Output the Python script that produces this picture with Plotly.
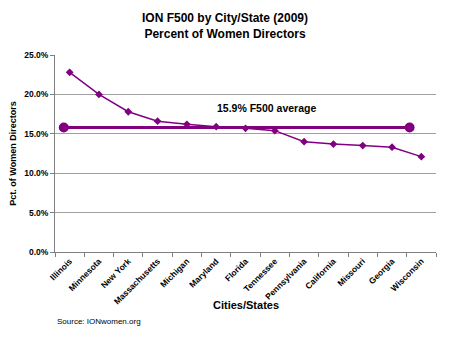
import plotly.graph_objects as go

states = ["Illinois", "Minnesota", "New York", "Massachusetts", "Michigan", "Maryland",
          "Florida", "Tennessee", "Pennsylvania", "California", "Missouri", "Georgia", "Wisconsin"]
pct_women = [22.8, 20.0, 17.8, 16.6, 16.2, 15.9, 15.7, 15.4, 14.0, 13.7, 13.5, 13.3, 12.1]

avg_x = [-0.2, 11.6]
avg_values = [15.8, 15.8]
avg_label = "15.9% F500 average"

y_ticks = [0, 5, 10, 15, 20, 25]
y_tick_labels = ["0.0%", "5.0%", "10.0%", "15.0%", "20.0%", "25.0%"]

purple = "#800080"
font_fam = "Arial, Liberation Sans, sans-serif"

fig = go.Figure()
fig.add_trace(go.Scatter(
    x=states, y=pct_women, mode="lines+markers",
    line=dict(color=purple, width=1.5),
    marker=dict(symbol="diamond", size=6, color=purple),
    xaxis="x", yaxis="y", showlegend=False))
fig.add_trace(go.Scatter(
    x=avg_x, y=avg_values, mode="lines+markers",
    line=dict(color=purple, width=3),
    marker=dict(symbol="circle", size=10, color=purple),
    xaxis="x2", yaxis="y", showlegend=False))

fig.update_layout(
    width=450, height=338,
    margin=dict(l=47, r=14, t=55, b=86),
    paper_bgcolor="white", plot_bgcolor="white",
    font=dict(family=font_fam, color="black"),
    title=dict(text="<b>ION F500 by City/State (2009)<br>Percent of Women Directors</b>",
               x=0.5, xanchor="center", y=0.935, yanchor="top",
               font=dict(size=12, family=font_fam)),
    xaxis=dict(type="category", categoryorder="array", categoryarray=states,
               range=[-0.5, len(states) - 0.5],
               tickangle=-45, tickfont=dict(size=8.5, family=font_fam, weight="bold"),
               ticks="outside", ticklen=4, tickcolor="#808080", tickson="boundaries",
               showline=True, linecolor="#808080", linewidth=1, mirror=False,
               showgrid=False, zeroline=False),
    xaxis2=dict(overlaying="x", range=[-0.5, len(states) - 0.5], visible=False),
    yaxis=dict(range=[0, 25], tickvals=y_ticks, ticktext=y_tick_labels,
               tickfont=dict(size=8.5, family=font_fam, weight="bold"),
               ticks="outside", ticklen=4, tickcolor="#808080",
               showline=True, linecolor="#808080", linewidth=1,
               showgrid=True, gridcolor="#a0a0a0", gridwidth=1, zeroline=False,
               title=dict(text="<b>Pct. of Women Directors</b>", font=dict(size=9), standoff=6)),
    yaxis2=dict(overlaying="y", side="right", range=[0, 25], showline=True,
                linecolor="#808080", showticklabels=False, ticks="", showgrid=False),
)

fig.add_annotation(text="<b>" + avg_label + "</b>", xref="paper", yref="paper",
                   x=0.69, y=0.77, showarrow=False, font=dict(size=10.5, family=font_fam))
fig.add_annotation(text="<b>Cities/States</b>", xref="paper", yref="paper",
                   x=0.5, y=-0.27, xanchor="center", yanchor="middle", showarrow=False,
                   font=dict(size=11, family=font_fam))
fig.add_annotation(text="Source: IONwomen.org", xref="paper", yref="paper",
                   x=0.0, y=-0.355, xanchor="left", yanchor="middle", showarrow=False,
                   font=dict(size=8, family=font_fam))

fig.write_html("out.html")
